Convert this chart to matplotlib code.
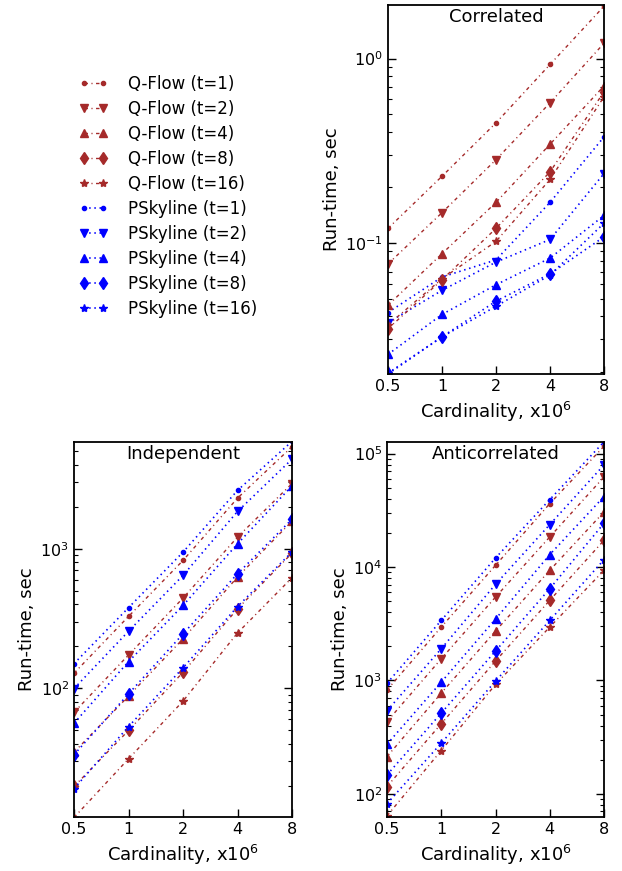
import matplotlib
matplotlib.use("Agg")
import matplotlib.pyplot as plt
from matplotlib.ticker import FixedLocator, FixedFormatter, NullFormatter, NullLocator
from matplotlib.lines import Line2D

cardinality = [0.5, 1, 2, 4, 8]
threads = [1, 2, 4, 8, 16]
markers = ["o", "v", "^", "d", "*"]
msizes = [3, 6, 6, 6, 6]

# run-time in seconds, one row per thread count
corr_qflow = [
    [0.12, 0.23, 0.448, 0.928, 1.92],
    [0.077, 0.146, 0.283, 0.575, 1.21],
    [0.046, 0.0875, 0.166, 0.343, 0.71],
    [0.0343, 0.0632, 0.12, 0.243, 0.66],
    [0.036, 0.064, 0.102, 0.221, 0.62],
]
corr_psky = [
    [0.042, 0.0654, 0.081, 0.166, 0.376],
    [0.037, 0.0554, 0.0788, 0.1045, 0.238],
    [0.0249, 0.041, 0.0594, 0.0828, 0.141],
    [0.0197, 0.031, 0.0484, 0.068, 0.108],
    [0.0195, 0.031, 0.0454, 0.067, 0.128],
]
indep_qflow = [
    [128, 327, 825, 2310, 5400],
    [67, 173, 443, 1213, 2940],
    [34.7, 87.7, 226, 627, 1580],
    [19.7, 49.7, 130, 371, 931],
    [11.8, 31.1, 80.7, 249, 620],
]
indep_psky = [
    [150, 378, 946, 2625, 5900],
    [99.3, 256, 644, 1853, 4400],
    [56, 155, 392, 1086, 2830],
    [33.3, 91, 245, 662, 1630],
    [19.0, 53, 140, 385, 950],
]
anti_qflow = [
    [824, 2956, 10340, 36200, 116000],
    [434, 1552, 5430, 18400, 62200],
    [213, 773, 2725, 9350, 30600],
    [116, 415, 1482, 5080, 17200],
    [64, 241, 922, 2956, 9350],
]
anti_psky = [
    [944, 3383, 12000, 39300, 127000],
    [540, 1903, 7030, 23650, 79400],
    [274, 966, 3475, 12860, 41800],
    [147, 515, 1815, 6440, 24300],
    [82, 280, 986, 3383, 11600],
]

QCOL = "#a52a2a"
PCOL = "#0000ff"
QDASH = (2.5, 2.5, 0.8, 2.5)
PDASH = (0.9, 2.2)
FS = 12.5


def panel(ax, qflow, psky, title, ylim):
    for i in range(len(threads)):
        ax.plot(cardinality, qflow[i], color=QCOL, lw=1, dashes=QDASH,
                marker=markers[i], ms=msizes[i], mec=QCOL)
        ax.plot(cardinality, psky[i], color=PCOL, lw=1.2, dashes=PDASH,
                marker=markers[i], ms=msizes[i], mec=PCOL)
    ax.set_xscale("log", base=2)
    ax.set_yscale("log")
    ax.set_xlim(0.5, 8)
    ax.set_ylim(*ylim)
    ax.xaxis.set_major_locator(FixedLocator(cardinality))
    ax.xaxis.set_major_formatter(FixedFormatter(["0.5", "1", "2", "4", "8"]))
    ax.xaxis.set_minor_locator(NullLocator())
    ax.yaxis.set_minor_formatter(NullFormatter())
    ax.tick_params(which="both", direction="in", left=True, right=True,
                   top=False, labelsize=FS - 1)
    ax.tick_params(which="major", length=6, width=1)
    ax.tick_params(which="minor", length=3, width=0.8)
    for s in ax.spines.values():
        s.set_linewidth(1.3)
    ax.set_xlabel("Cardinality, x$10^6$", fontsize=FS + 0.5)
    ax.set_ylabel("Run-time, sec", fontsize=FS + 0.5, labelpad=3)
    ax.text(0.5, 0.967, title, transform=ax.transAxes, ha="center",
            va="center", fontsize=FS + 0.5)


fig = plt.figure(figsize=(6.22, 8.71), dpi=100)
W, H = 622.0, 871.0

ax_c = fig.add_axes([388 / W, 1 - 374 / H, 216 / W, 369 / H])
ax_i = fig.add_axes([74 / W, 1 - 817 / H, 218 / W, 375 / H])
ax_a = fig.add_axes([387 / W, 1 - 817 / H, 217 / W, 375 / H])

panel(ax_c, corr_qflow, corr_psky, "Correlated", (0.0195, 1.95))
panel(ax_i, indep_qflow, indep_psky, "Independent", (11.9, 5840))
panel(ax_a, anti_qflow, anti_psky, "Anticorrelated", (62.5, 126500))

handles = []
labels = []
for name, col, dsh, lw in [("Q-Flow", QCOL, QDASH, 1), ("PSkyline", PCOL, PDASH, 1.2)]:
    for i, t in enumerate(threads):
        handles.append(Line2D([], [], color=col, lw=lw, dashes=dsh,
                              marker=markers[i], ms=msizes[i], mec=col))
        labels.append("%s (t=%d)" % (name, t))

fig.legend(handles, labels, loc="upper left", bbox_to_anchor=(72 / W, 1 - 68 / H),
           frameon=False, numpoints=2, fontsize=FS - 0.5, handlelength=1.75,
           labelspacing=0.42, handletextpad=1.2, borderaxespad=0)

fig.savefig("out.png", dpi=100)
